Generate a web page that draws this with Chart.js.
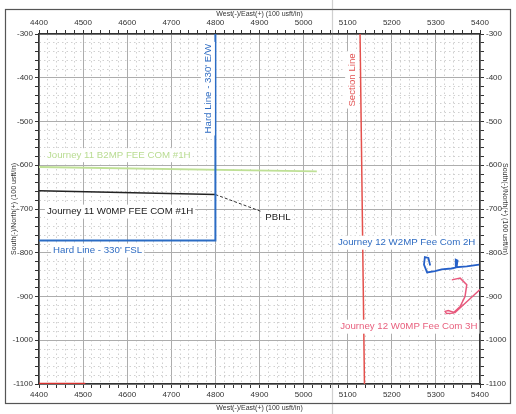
<!DOCTYPE html>
<html>
<head>
<meta charset="utf-8">
<script src="https://cdn.jsdelivr.net/npm/chart.js@4"></script>
<style>
  html,body{margin:0;padding:0;background:#fff;}
  #wrap{width:516px;height:414px;}
</style>
</head>
<body>
<div id="wrap"><canvas id="plot" width="516" height="414"></canvas></div>
<script>
// axis ranges (100 usft/in)
const xRange = [4400, 5400];
const yRange = [-1100, -300];

// lines, [east, north]
const hardLine = [[4800,-300],[4800,-772],[4400,-772]];
const journey11B2 = [[4400,-604],[5030,-614]];
const journey11W0 = [[4400,-658],[4800,-667]];
const pbhlLeader = [[4800,-667],[4905,-706]];
const sectionLine = [[5128,-300],[5138,-1100]];
const bottomRed = [[4400,-1100],[4505,-1100]];
const journey12W2 = [[5287,-829],[5283,-812],[5275,-810],[5273,-827],[5280,-845],[5298,-842],[5313,-838],[5335,-836],[5345,-834],[5345,-816],[5349,-818],[5347,-833],[5370,-831],[5398,-827]];
const journey12W0 = [[5336,-862],[5355,-858],[5370,-873],[5366,-900],[5355,-923],[5339,-938],[5324,-939],[5321,-934],[5328,-932],[5343,-937],[5400,-884]];

// text labels: [text, east, north, colour, rotated]
const labels = [
  ["Journey 11 B2MP FEE COM #1H", 4418, -577, "#b9dc92", false],
  ["Journey 11 W0MP FEE COM #1H", 4418, -706, "#222222", false],
  ["Hard Line - 330' FSL", 4432, -795, "#2f6cc2", false],
  ["Hard Line - 330' E/W", 4783, -425, "#2f6cc2", true],
  ["PBHL", 4913, -720, "#222222", false],
  ["Section Line", 5110, -405, "#e25252", true],
  ["Journey 12 W2MP Fee Com 2H", 5078, -777, "#2f6cc2", false],
  ["Journey 12 W0MP Fee Com 3H", 5083, -969, "#e8607e", false]
];

const pts = arr => arr.map(p => ({x:p[0], y:p[1]}));

function line(data, color, width, dash){
  return { data: pts(data), showLine:true, borderColor:color, borderWidth:width,
    borderDash: dash || [], pointRadius:0, fill:false, tension:0 };
}

const labelPlugin = {
  id:"labels",
  afterDatasetsDraw(chart){
    const c = chart.ctx, xs = chart.scales.x, ys = chart.scales.y;
    c.save();
    c.font = "9.7px 'Liberation Sans', Arial, sans-serif";
    c.textBaseline = "middle";
    labels.forEach(([t, ex, ny, col, rot]) => {
      const px = xs.getPixelForValue(ex), py = ys.getPixelForValue(ny);
      c.save();
      c.translate(px, py);
      if(rot) c.rotate(-Math.PI/2);
      const w = c.measureText(t).width;
      c.textAlign = rot ? "center" : "left";
      const x0 = rot ? -w/2 : 0;
      c.fillStyle = "#fff";
      c.fillRect(x0-2, -7, w+4, 14);
      c.fillStyle = col;
      c.fillText(t, 0, 0);
      c.restore();
    });
    c.restore();
  },
  afterDraw(chart){
    const c = chart.ctx;
    c.save();
    c.strokeStyle = "#555";
    c.lineWidth = 1.2;
    c.strokeRect(5.5, 9.5, 505, 394);
    c.strokeStyle = "rgba(120,120,120,0.35)";
    c.beginPath(); c.moveTo(332.5, 0); c.lineTo(332.5, 414); c.stroke();
    c.restore();
  }
};

const isMajor = v => Math.round(v) % 100 === 0;
const gridOpts = {
  color: ctx => ctx.tick && isMajor(ctx.tick.value) ? "#adadad" : "#d0d0d0",
  lineWidth: 1, tickLength: 4, tickColor: "#333"
};
const borderOpts = {
  color:"#333", width:1.5,
  dash: ctx => ctx.tick && isMajor(ctx.tick.value) ? [] : [1.5,3]
};
const tickOpts = {
  stepSize:20, autoSkip:false, maxRotation:0, color:"#333", padding:2,
  font:{size:8, family:"'Liberation Sans', Arial, sans-serif"},
  callback: v => isMajor(v) ? v : ""
};
const titleFont = {size:7, family:"'Liberation Sans', Arial, sans-serif"};

function fixSize(prop, val){ return s => { s[prop] = val; }; }

new Chart(document.getElementById("plot").getContext("2d"), {
  type:"scatter",
  data:{
    datasets:[
      line(hardLine, "#2b6cc4", 2),
      line(journey11B2, "#bfe096", 2),
      line(journey11W0, "#222", 1.5),
      line(pbhlLeader, "#333", 1, [3,2]),
      line(sectionLine, "#e4504c", 1.5),
      line(bottomRed, "#d8302c", 2.5),
      line(journey12W2, "#2660c8", 1.8),
      line(journey12W0, "#e8587c", 1.5)
    ]
  },
  options:{
    responsive:false,
    animation:false,
    layout:{padding:0},
    plugins:{legend:{display:false}, tooltip:{enabled:false}},
    scales:{
      x:{ type:"linear", position:"bottom", min:xRange[0], max:xRange[1],
          ticks:tickOpts, grid:gridOpts, border:borderOpts,
          title:{display:true, text:"West(-)/East(+) (100 usft/in)", color:"#333", font:titleFont, padding:{top:0,bottom:2}},
          afterFit: fixSize("height", 30) },
      x2:{ type:"linear", position:"top", min:xRange[0], max:xRange[1],
          ticks:tickOpts, grid:{drawOnChartArea:false, tickLength:4, tickColor:"#333"},
          border:{color:"#333", width:1.5},
          title:{display:true, text:"West(-)/East(+) (100 usft/in)", color:"#333", font:titleFont, padding:{top:10, bottom:0}},
          afterFit: fixSize("height", 34) },
      y:{ type:"linear", position:"left", min:yRange[0], max:yRange[1],
          ticks:tickOpts, grid:gridOpts, border:borderOpts,
          title:{display:true, text:"South(-)/North(+) (100 usft/in)", color:"#333", font:titleFont, padding:{top:10,bottom:0}},
          afterFit: fixSize("width", 39) },
      y2:{ type:"linear", position:"right", min:yRange[0], max:yRange[1],
          ticks:tickOpts, grid:{drawOnChartArea:false, tickLength:4, tickColor:"#333"},
          border:{color:"#333", width:1.5},
          title:{display:true, text:"South(-)/North(+) (100 usft/in)", color:"#333", font:titleFont, padding:{top:7,bottom:0}},
          afterFit: fixSize("width", 36) }
    }
  },
  plugins:[labelPlugin]
});
</script>
</body>
</html>
